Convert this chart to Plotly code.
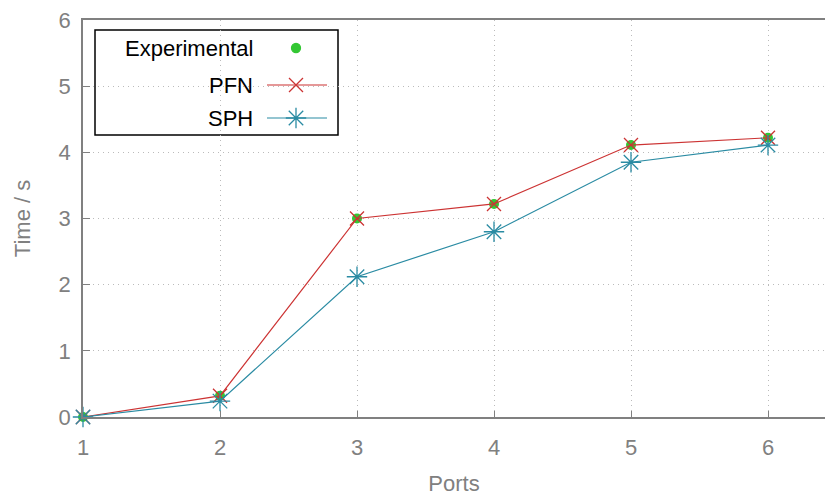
import plotly.graph_objects as go

ports = [1, 2, 3, 4, 5, 6]
experimental = [0.0, 0.32, 3.0, 3.22, 4.11, 4.22]
pfn = [0.0, 0.32, 3.0, 3.22, 4.11, 4.22]
sph = [0.0, 0.24, 2.12, 2.80, 3.85, 4.11]
y_ticks = [0, 1, 2, 3, 4, 5, 6]
x_ticks = [1, 2, 3, 4, 5, 6]

GREEN = "#33c733"
RED = "#cc3333"
TEAL = "#2a8ba3"
GRAY = "#808080"
FONT = "Liberation Sans, Arial, sans-serif"
FS = 22

fig = go.Figure()
fig.add_trace(go.Scatter(x=ports, y=experimental, mode="markers", name="Experimental",
                         marker=dict(symbol="circle", size=10, color=GREEN), cliponaxis=False))
fig.add_trace(go.Scatter(x=ports, y=pfn, mode="lines+markers", name="PFN",
                         line=dict(color=RED, width=1.2),
                         marker=dict(symbol="x-thin-open", size=14, color=RED,
                                     line=dict(color=RED, width=1.3)), cliponaxis=False))
fig.add_trace(go.Scatter(x=ports, y=sph, mode="lines+markers", name="SPH",
                         line=dict(color=TEAL, width=1.2),
                         marker=dict(symbol="asterisk-open", size=17, color=TEAL,
                                     line=dict(color=TEAL, width=1.3)), cliponaxis=False))

# Legend drawn in pixel coordinates on a hidden overlay axis
L, R, T, B = 83, 825, 20, 417
leg_items = [
    ("Experimental", GREEN, "circle", 9, False, 48),
    ("PFN", RED, "x-thin-open", 14, True, 85),
    ("SPH", TEAL, "asterisk-open", 17, True, 118),
]
for label, col, sym, sz, has_line, yy in leg_items:
    if has_line:
        fig.add_trace(go.Scatter(x=[267, 327], y=[yy, yy], mode="lines",
                                 line=dict(color=col, width=1.2),
                                 xaxis="x2", yaxis="y2", showlegend=False, hoverinfo="skip"))
    fig.add_trace(go.Scatter(
        x=[296], y=[yy], mode="markers",
        marker=dict(symbol=sym, size=sz, color=col, line=dict(color=col, width=1.3)),
        xaxis="x2", yaxis="y2", showlegend=False, hoverinfo="skip"))
    fig.add_annotation(x=255, y=yy, xref="x2", yref="y2", text=label, showarrow=False,
                       xanchor="right", yanchor="middle",
                       font=dict(family=FONT, size=FS, color="black"))
fig.add_shape(type="rect", x0=95, x1=338, y0=30, y1=135, xref="x2", yref="y2",
              line=dict(color="black", width=1.5), fillcolor="white", layer="below")

fig.update_layout(
    width=825, height=496,
    margin=dict(l=L, r=825 - R, t=T, b=496 - B),
    plot_bgcolor="white", paper_bgcolor="white",
    showlegend=False,
    font=dict(family=FONT, size=FS, color=GRAY),
    xaxis=dict(range=[1, 1 + (R - L) / 137.0], tickvals=x_ticks, ticks="inside", ticklen=6,
               tickcolor=GRAY, showline=True, linecolor=GRAY, linewidth=1.5, mirror=True,
               showgrid=True, gridcolor="#bbbbbb", griddash="1px,4px", gridwidth=1,
               zeroline=False, tickfont=dict(size=FS, color=GRAY), ticklabelstandoff=10,
               automargin=False,
               title=dict(text="Ports", font=dict(size=FS, color=GRAY), standoff=25)),
    yaxis=dict(range=[0, 6], tickvals=y_ticks, ticks="inside", ticklen=7,
               tickcolor=GRAY, showline=True, linecolor=GRAY, linewidth=1.5,
               showgrid=True, gridcolor="#bbbbbb", griddash="1px,4px", gridwidth=1,
               zeroline=False, tickfont=dict(size=FS, color=GRAY), ticklabelstandoff=6,
               automargin=False,
               title=dict(text="Time / s", font=dict(size=FS, color=GRAY), standoff=22)),
    xaxis2=dict(range=[L, R], overlaying="x", visible=False, anchor="y2"),
    yaxis2=dict(range=[B, T], overlaying="y", visible=False, anchor="x2"),
)

fig.write_html("out.html", config={"displayModeBar": False},
               post_script="document.body.style.margin='0';document.body.style.overflow='hidden';")
